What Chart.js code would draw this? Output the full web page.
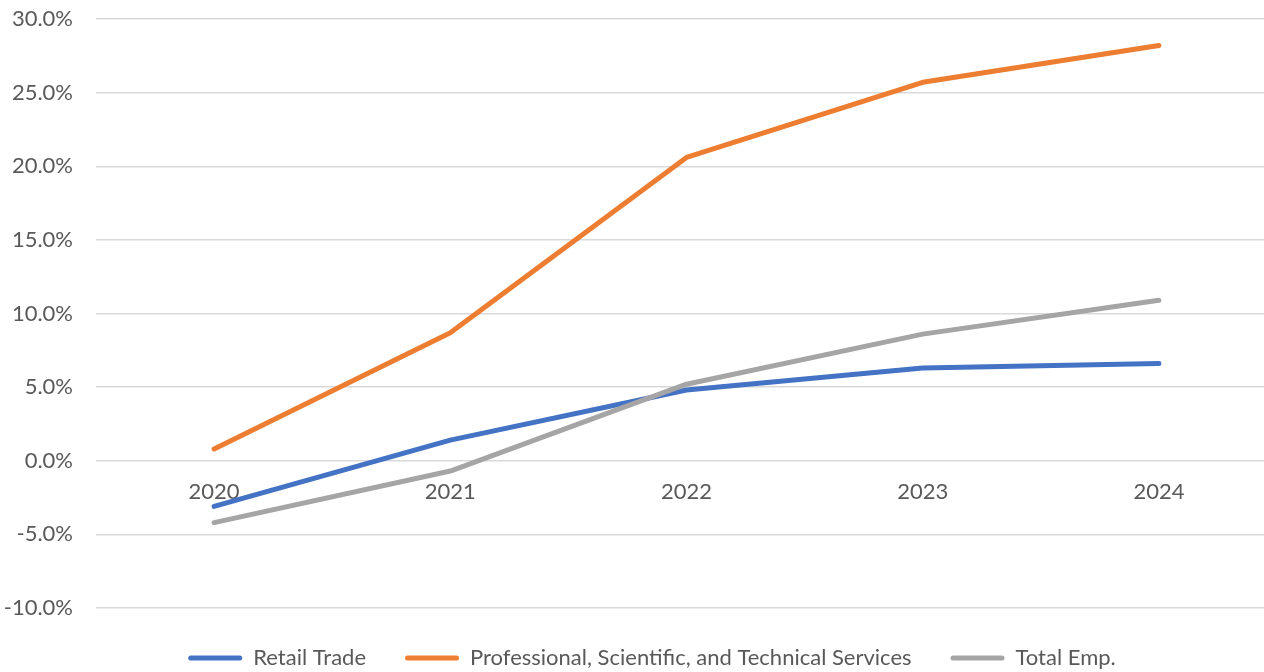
<!DOCTYPE html>
<html>
<head>
<meta charset="utf-8">
<script src="https://cdn.jsdelivr.net/npm/chart.js@4"></script>
<style>
  html, body { margin: 0; padding: 0; background: #fff; overflow: hidden; }
  #wrap { width: 1264px; height: 672px; overflow: hidden; position: relative; }
  #box { width: 1280px; height: 672px; position: absolute; left: 0; top: 0; }
</style>
</head>
<body>
<div id="wrap"><div id="box"><canvas id="chart"></canvas></div></div>
<script>
// ---- data ----
const years = ["2020", "2021", "2022", "2023", "2024"];
const retailTrade = [-3.1, 1.4, 4.8, 6.3, 6.6];
const professionalServices = [0.8, 8.7, 20.6, 25.7, 28.2];
const totalEmp = [-4.2, -0.7, 5.2, 8.6, 10.9];
const seriesNames = ["Retail Trade", "Professional, Scientific, and Technical Services", "Total Emp."];
const seriesColors = ["#4472C4", "#ED7D31", "#A5A5A5"];

const TEXT = "#595959";
const FONT = "Lato, 'Open Sans', sans-serif";

// legend: fixed height and centred like the original (plot runs past the right edge)
const legendFix = {
  id: "legendFix",
  beforeInit(chart) {
    const orig = chart.legend.fit;
    chart.legend.fit = function () {
      orig.bind(chart.legend)();
      this.height = 64;
    };
  },
  afterLayout(chart) {
    chart.legend.left = 24;
    chart.legend.right = 1280;
  },
};

function makeSet(i, values) {
  return {
    label: seriesNames[i],
    data: values,
    borderColor: seriesColors[i],
    backgroundColor: seriesColors[i],
    borderWidth: 5,
    borderCapStyle: "round",
    borderJoinStyle: "round",
    pointRadius: 0,
    tension: 0,
    order: 3 - i, // last series drawn on top
  };
}

new Chart(document.getElementById("chart"), {
  type: "line",
  data: {
    labels: years,
    datasets: [makeSet(0, retailTrade), makeSet(1, professionalServices), makeSet(2, totalEmp)],
  },
  options: {
    responsive: true,
    maintainAspectRatio: false,
    animation: false,
    layout: { padding: { left: 0, right: 3, top: 19, bottom: 0 } },
    plugins: {
      tooltip: { enabled: false },
      legend: {
        position: "bottom",
        labels: {
          color: TEXT,
          font: { family: FONT, size: 22 },
          boxWidth: 54,
          boxHeight: 5,
          padding: 39,
          sort: (a, b) => a.datasetIndex - b.datasetIndex,
          generateLabels: (chart) =>
            chart.data.datasets.map((ds, i) => ({
              text: ds.label,
              fillStyle: ds.borderColor,
              strokeStyle: ds.borderColor,
              lineWidth: 0,
              borderRadius: 2.5,
              fontColor: TEXT,
              datasetIndex: i,
            })),
          useBorderRadius: true,
        },
      },
    },
    scales: {
      x: {
        type: "category",
        position: { y: 0 },
        offset: true,
        grid: { display: false, drawTicks: false },
        border: { display: false },
        ticks: { color: TEXT, font: { family: FONT, size: 22 }, padding: 18, maxRotation: 0 },
      },
      y: {
        min: -10,
        max: 30,
        afterFit: (scale) => {
          scale.width = 96;
          scale.paddingTop = 0;
          scale.paddingBottom = 0;
        },
        grid: { color: "#D9D9D9", lineWidth: 1.5, drawTicks: false },
        border: { display: false },
        ticks: {
          stepSize: 5,
          color: TEXT,
          font: { family: FONT, size: 22 },
          padding: 23,
          callback: (v) => v.toFixed(1) + "%",
        },
      },
    },
  },
  plugins: [legendFix],
});
</script>
</body>
</html>
